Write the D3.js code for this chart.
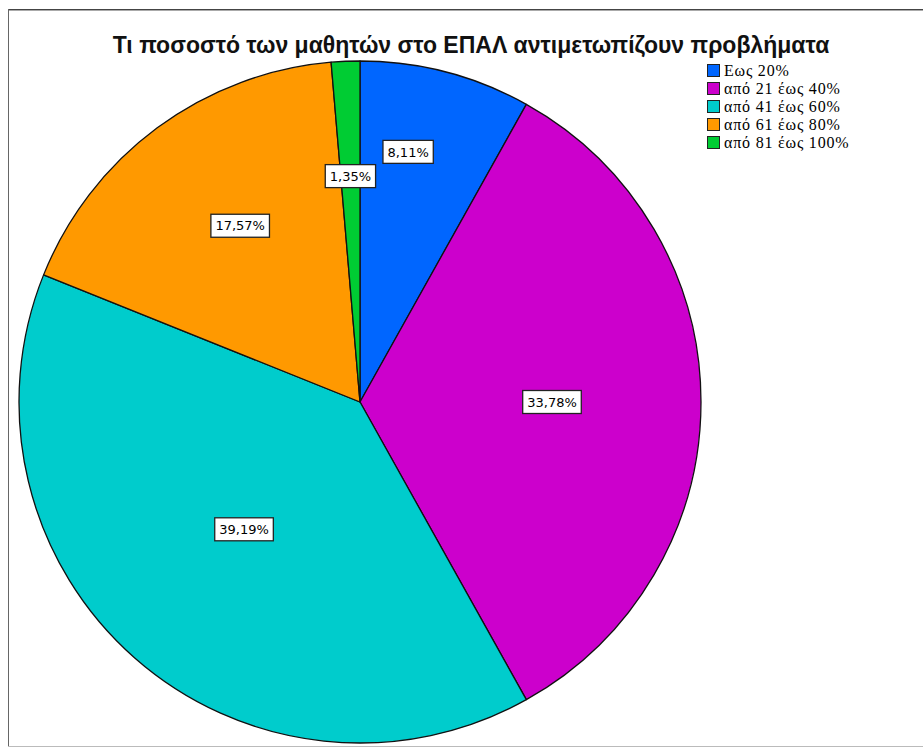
<!DOCTYPE html>
<html>
<head>
<meta charset="utf-8">
<script src="https://cdn.jsdelivr.net/npm/d3@7"></script>
<style>
  html, body { margin: 0; padding: 0; background: #fff; }
  svg { display: block; }
</style>
</head>
<body>
<svg id="chart" width="923" height="748"></svg>
<script>
const title = "Τι ποσοστό των μαθητών στο ΕΠΑΛ αντιμετωπίζουν προβλήματα";
const categories = ["Εως 20%", "από 21 έως 40%", "από 41 έως 60%", "από 61 έως 80%", "από 81 έως 100%"];
const values = [8.11, 33.78, 39.19, 17.57, 1.35];
const valueLabels = ["8,11%", "33,78%", "39,19%", "17,57%", "1,35%"];
const colors = ["#0066ff", "#cc00cc", "#00cccc", "#ff9900", "#00cc33"];
// label placement inside each slice (layout only): radius fraction and angular fraction
const labelRadiusFrac = [0.747, 0.563, 0.505, 0.625, 0.663];
const labelAngleFrac = [0.373, 0.5, 0.507, 0.536, 0.5];

const W = 923, H = 748;
const cx = 360, cy = 402, R = 341;

const svg = d3.select("#chart");

// frame
svg.append("line").attr("x1", 8).attr("x2", W).attr("y1", 9.5).attr("y2", 9.5).attr("stroke", "#444").attr("stroke-width", 1);
svg.append("line").attr("x1", 8).attr("x2", W).attr("y1", 10.5).attr("y2", 10.5).attr("stroke", "#aaa").attr("stroke-width", 1);
svg.append("line").attr("x1", 8.5).attr("x2", 8.5).attr("y1", 9).attr("y2", 747).attr("stroke", "#666").attr("stroke-width", 1);
svg.append("line").attr("x1", 8).attr("x2", W).attr("y1", 746.5).attr("y2", 746.5).attr("stroke", "#bbb").attr("stroke-width", 1);

// title
svg.append("text")
  .attr("x", 471).attr("y", 53)
  .attr("text-anchor", "middle")
  .attr("font-family", "Liberation Sans, Arial, sans-serif")
  .attr("font-size", 23)
  .attr("font-weight", "bold")
  .attr("fill", "#111")
  .text(title);

const pie = d3.pie().sort(null).value(d => d)(values);
const arc = d3.arc().innerRadius(0).outerRadius(R);

const g = svg.append("g").attr("transform", `translate(${cx},${cy})`);
g.selectAll("path.slice")
  .data(pie)
  .join("path")
  .attr("class", "slice")
  .attr("d", arc)
  .attr("fill", (d, i) => colors[i])
  .attr("stroke", "#111")
  .attr("stroke-width", 1.3)
  .attr("stroke-linejoin", "round");

// labels
const lg = g.selectAll("g.lbl")
  .data(pie)
  .join("g")
  .attr("class", "lbl")
  .attr("transform", (d, i) => {
    const r = R * labelRadiusFrac[i];
    const a = d.startAngle + (d.endAngle - d.startAngle) * labelAngleFrac[i];
    return `translate(${r * Math.sin(a)},${-r * Math.cos(a)})`;
  });

lg.each(function(d, i) {
  const gg = d3.select(this);
  const t = gg.append("text")
    .attr("text-anchor", "middle")
    .attr("dy", "0.36em")
    .attr("font-family", "DejaVu Sans, Verdana, sans-serif")
    .attr("font-size", 13)
    .attr("fill", "#000")
    .text(valueLabels[i]);
  const bb = t.node().getBBox();
  gg.insert("rect", "text")
    .attr("x", -bb.width / 2 - 4.5)
    .attr("y", -11.5)
    .attr("width", bb.width + 9)
    .attr("height", 23)
    .attr("fill", "#fff")
    .attr("stroke", "#222")
    .attr("stroke-width", 1.3);
});

// legend
const legend = svg.append("g").attr("transform", "translate(707,64)");
const items = legend.selectAll("g")
  .data(categories)
  .join("g")
  .attr("transform", (d, i) => `translate(0,${i * 18})`);
items.append("rect")
  .attr("x", 0.5).attr("y", 0.5)
  .attr("width", 12).attr("height", 12)
  .attr("fill", (d, i) => colors[i])
  .attr("stroke", "#222").attr("stroke-width", 1);
items.append("text")
  .attr("x", 17).attr("y", 11.5)
  .attr("font-family", "Liberation Serif, Times New Roman, serif")
  .attr("font-size", 16)
  .attr("letter-spacing", 0.8)
  .attr("fill", "#000")
  .text(d => d);
</script>
</body>
</html>
